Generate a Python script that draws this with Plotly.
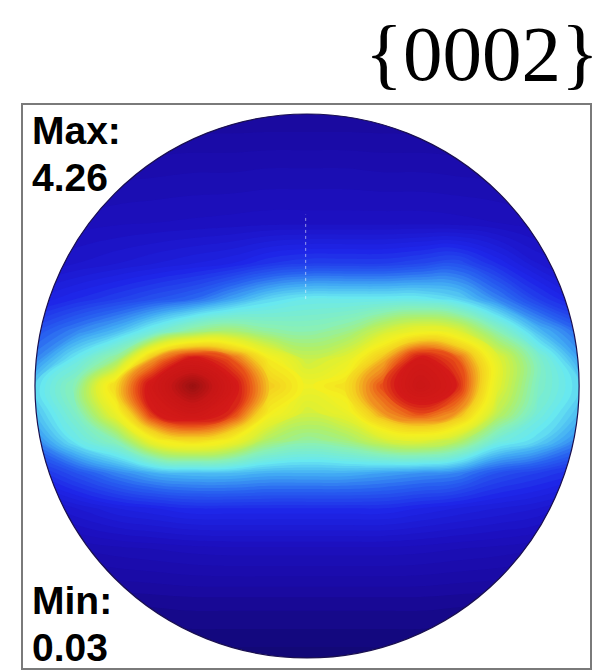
import numpy as np
import plotly.graph_objects as go

# Pole figure {0002}: intensity sampled on a grid over the unit circle
u_nodes = [-1.0, -0.85, -0.7, -0.56, -0.42, -0.28, -0.14, 0.0,
           0.14, 0.28, 0.415, 0.55, 0.7, 0.85, 1.0]
v_nodes = [-1.0, -0.8, -0.6, -0.45, -0.32, -0.2, -0.1, 0.0,
           0.1, 0.2, 0.32, 0.45, 0.6, 0.8, 1.0]

# rows run from bottom (v=-1) to top (v=1)
intensity = [
    [0.12, 0.12, 0.12, 0.12, 0.12, 0.12, 0.12, 0.12, 0.12, 0.12, 0.12, 0.12, 0.12, 0.12, 0.12],
    [0.22, 0.24, 0.25, 0.26, 0.27, 0.27, 0.27, 0.27, 0.27, 0.27, 0.27, 0.26, 0.25, 0.24, 0.22],
    [0.42, 0.45, 0.48, 0.50, 0.52, 0.53, 0.53, 0.53, 0.53, 0.53, 0.52, 0.50, 0.48, 0.45, 0.42],
    [0.60, 0.70, 0.80, 0.85, 0.90, 0.90, 0.90, 0.90, 0.90, 0.90, 0.85, 0.80, 0.75, 0.70, 0.60],
    [0.90, 1.10, 1.30, 1.45, 1.50, 1.50, 1.45, 1.45, 1.45, 1.40, 1.35, 1.30, 1.10, 1.00, 0.90],
    [1.30, 1.70, 2.00, 2.65, 2.85, 2.65, 2.20, 2.05, 2.15, 2.40, 2.50, 2.30, 1.80, 1.60, 1.30],
    [1.50, 1.90, 2.60, 3.50, 3.75, 3.45, 2.70, 2.40, 2.55, 3.10, 3.35, 3.10, 2.30, 1.80, 1.50],
    [1.60, 2.00, 2.90, 3.70, 4.26, 3.65, 2.95, 2.62, 2.80, 3.35, 3.85, 3.50, 2.50, 1.90, 1.60],
    [1.30, 1.70, 2.10, 3.10, 3.60, 3.30, 2.70, 2.35, 2.50, 3.00, 3.60, 3.30, 2.50, 1.90, 1.40],
    [1.10, 1.30, 1.50, 1.80, 2.10, 2.20, 2.05, 2.00, 2.10, 2.40, 2.60, 2.50, 2.00, 1.50, 1.20],
    [0.80, 0.90, 1.00, 1.10, 1.20, 1.40, 1.60, 1.70, 1.70, 1.70, 1.70, 1.60, 1.30, 1.00, 0.80],
    [0.60, 0.65, 0.70, 0.75, 0.80, 0.85, 0.95, 1.00, 1.00, 1.00, 1.05, 1.10, 0.90, 0.70, 0.60],
    [0.50, 0.52, 0.54, 0.55, 0.56, 0.57, 0.58, 0.58, 0.58, 0.58, 0.58, 0.57, 0.55, 0.52, 0.50],
    [0.38, 0.40, 0.42, 0.43, 0.44, 0.44, 0.45, 0.45, 0.45, 0.44, 0.44, 0.43, 0.42, 0.40, 0.38],
    [0.30, 0.30, 0.30, 0.30, 0.30, 0.30, 0.30, 0.30, 0.30, 0.30, 0.30, 0.30, 0.30, 0.30, 0.30],
]

z_min_label = "0.03"
z_max_label = "4.26"
z_top = 4.26

# jet-like colour ramp, stops given in intensity units
ramp = [
    (0.0, "#100870"), (0.12, "#120878"), (0.3, "#1a0aa0"), (0.55, "#1c10c0"),
    (0.85, "#1e26e8"), (1.15, "#2860f0"), (1.4, "#40a8f4"), (1.65, "#68e8f0"),
    (1.95, "#88f0b8"), (2.2, "#b0f068"), (2.45, "#e0f030"), (2.65, "#f4f020"),
    (2.9, "#f4d020"), (3.1, "#f09020"), (3.3, "#e85018"), (3.5, "#d41a18"),
    (3.9, "#c81616"), (4.26, "#981010"),
]
colorscale = [[v / z_top, c] for v, c in ramp]

fig = go.Figure()
fig.add_trace(go.Contour(
    x=u_nodes, y=v_nodes, z=intensity,
    zmin=0, zmax=z_top, autocontour=False,
    contours=dict(start=0.05, end=4.25, size=0.05, coloring="fill"),
    line=dict(width=0, smoothing=1.3),
    colorscale=colorscale, showscale=False, hoverinfo="skip",
))

# white mask outside the unit circle
t = np.linspace(0, 2 * np.pi, 361)
circ = " ".join(("M" if i == 0 else "L") + f"{np.cos(a):.5f},{np.sin(a):.5f}"
                for i, a in enumerate(t))
mask_path = "M-1.3,-1.3 L1.3,-1.3 L1.3,1.3 L-1.3,1.3 Z " + circ + " Z"
fig.add_shape(type="path", path=mask_path, fillcolor="white",
              line=dict(width=0), fillrule="evenodd", layer="above")
fig.add_shape(type="circle", x0=-1, y0=-1, x1=1, y1=1,
              line=dict(color="#1a1050", width=1.2), layer="above")
# faint centre marker line
fig.add_shape(type="line", x0=-0.005, x1=-0.005, y0=0.32, y1=0.63,
              line=dict(color="rgba(255,255,255,0.55)", width=1, dash="dot"),
              layer="above")

label_font = dict(family="Liberation Sans, Arial, sans-serif", size=39, color="black")
for txt, yv in [("<b>Max:</b>", 0.941), (f"<b>{z_max_label}</b>", 0.768),
                ("<b>Min:</b>", -0.790), (f"<b>{z_min_label}</b>", -0.963)]:
    fig.add_annotation(x=-1.019, y=yv, xref="x", yref="y", text=txt,
                       showarrow=False, xanchor="left", yanchor="middle",
                       font=label_font)

fig.add_annotation(x=1.019, y=1.091, xref="paper", yref="paper", text="{0002}",
                   showarrow=False, xanchor="right", yanchor="middle",
                   font=dict(family="Liberation Serif, Times New Roman, serif",
                             size=79, color="black"))

fig.update_xaxes(range=[-1.044, 1.04], showticklabels=False,
                 ticks="", showgrid=False, zeroline=False,
                 showline=True, mirror=True, linecolor="#7a7a7a", linewidth=1.5)
fig.update_yaxes(range=[-1.037, 1.033], showticklabels=False, ticks="",
                 showgrid=False, zeroline=False,
                 showline=True, mirror=True, linecolor="#7a7a7a", linewidth=1.5)
fig.update_layout(width=598, height=670, margin=dict(l=23, r=8, t=105, b=2),
                  paper_bgcolor="white", plot_bgcolor="white", showlegend=False)

fig.write_html("out.html")
